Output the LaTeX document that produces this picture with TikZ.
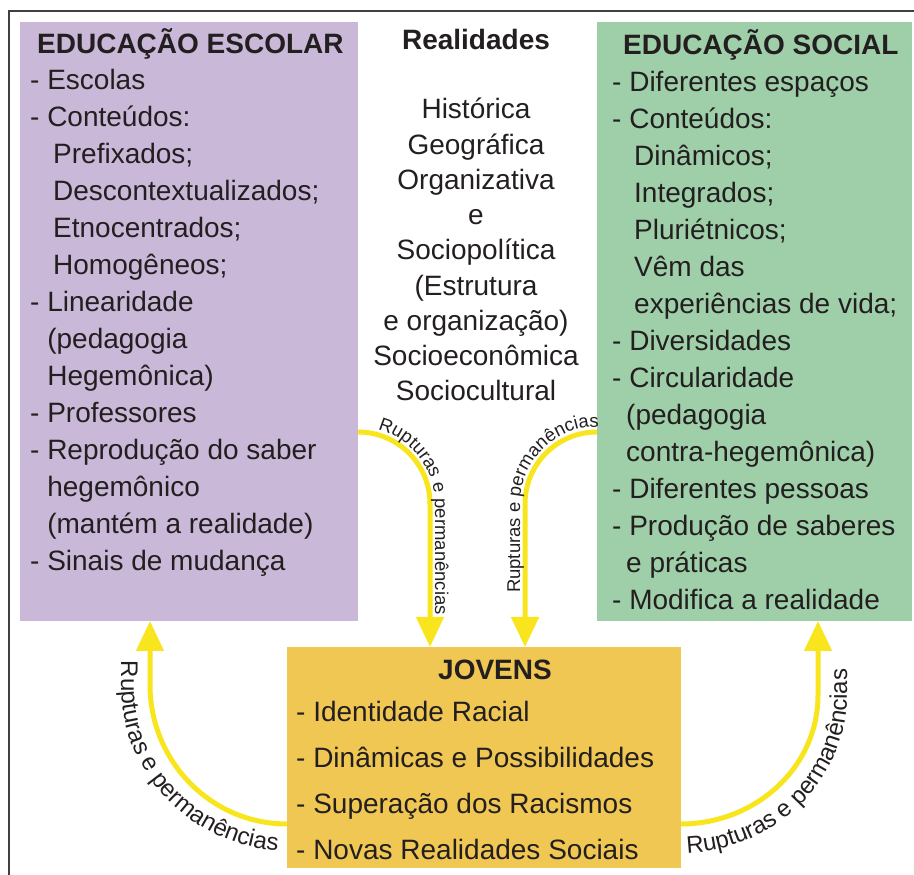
\documentclass[tikz,border=0pt]{standalone}
\usepackage{fontspec}
\setmainfont{Liberation Sans}
\usetikzlibrary{arrows.meta,calc,decorations.text}
\definecolor{lilas}{HTML}{C9B8D7}
\definecolor{verde}{HTML}{9FCFA9}
\definecolor{ouro}{HTML}{EFC752}
\definecolor{amarelo}{HTML}{F8E51E}
\definecolor{tinta}{HTML}{231F20}
\newcommand\textobox{\fontsize{28}{37}\selectfont}
\newcommand\rotulopeq{\color{tinta}\fontsize{18.5}{18.5}\selectfont}
\newcommand\rotulogr{\color{tinta}\fontsize{24}{24}\selectfont}
\newcommand\recuo{\hspace*{23pt}}
\newcommand\meio{\phantom{- }}

\begin{document}
\begin{tikzpicture}[x=1pt, y=1pt,
	painel/.style={inner sep=0pt, outer sep=0pt, anchor=south west},
	titulo/.style={font=\bfseries\fontsize{28}{28}\selectfont, text=tinta, inner sep=0pt, anchor=base west},
	lista/.style={text=tinta, inner sep=0pt, align=left, anchor=north west},
	seta/.style={line width=5pt, color=amarelo, >={Triangle[length=30pt,width=27pt]}},
	rotulo/.style 2 args={decorate, decoration={text along path,
		text={|#1|Rupturas e permanências}, text align={left indent=#2}}}]
			%%%%% START %%%%%
			\useasboundingbox (0, 0) rectangle (914, 875);
			\draw[line width=1.2pt, color=black!75] (9, 0) -- (9, 864) -- (914, 864);
			
			\node[painel, fill=lilas, minimum width=338pt, minimum height=599pt] (escolar) at (20, 254) {};
			\node[painel, fill=verde, minimum width=315pt, minimum height=599pt] (social) at (597, 254) {};
			\node[painel, fill=ouro, minimum width=394pt, minimum height=221pt] (jovens) at (287, 7) {};
			
			\node[titulo] (escolartitulo) at (37, 821) {EDUCAÇÃO ESCOLAR};
			\node[lista, font=\textobox] (escolarlista) at (30, 806) {- Escolas\\- Conteúdos:\\\recuo Prefixados;\\\recuo Descontextualizados;\\\recuo Etnocentrados;\\\recuo Homogêneos;\\- Linearidade\\\meio (pedagogia\\\meio Hegemônica)\\- Professores\\- Reprodução do saber\\\meio hegemônico\\\meio (mantém a realidade)\\- Sinais de mudança};
			
			\node[titulo, anchor=base] (realtitulo) at (476, 825) {Realidades};
			\node[text=tinta, inner sep=0pt, align=center, anchor=north, font=\fontsize{28}{35.25}\selectfont] (reallista) at (476, 777) {Histórica\\Geográfica\\Organizativa\\e\\Sociopolítica\\(Estrutura\\e organização)\\Socioeconômica\\Sociocultural};
			
			\node[titulo] (socialtitulo) at (623, 820) {EDUCAÇÃO SOCIAL};
			\node[lista, font=\textobox] (sociallista) at (612, 804) {- Diferentes espaços\\- Conteúdos:\\\hspace*{22pt}Dinâmicos;\\\hspace*{22pt}Integrados;\\\hspace*{22pt}Pluriétnicos;\\\hspace*{22pt}Vêm das\\\hspace*{22pt}experiências de vida;\\- Diversidades\\- Circularidade\\\hspace*{14pt}(pedagogia\\\hspace*{14pt}contra-hegemônica)\\- Diferentes pessoas\\- Produção de saberes\\\hspace*{14pt}e práticas\\- Modifica a realidade};
			
			\node[titulo] (jovenstitulo) at (438, 195) {JOVENS};
			\node[lista, font=\fontsize{28}{46}\selectfont] (jovenslista) at (296, 174) {- Identidade Racial\\- Dinâmicas e Possibilidades\\- Superação dos Racismos\\- Novas Realidades Sociais};
			
			% setas do centro
			\draw[seta, ->] ($(escolar.south east)+(0, 189)$) to[out=0, in=90] (430, 371) -- ($(jovens.north west)+(143, 0)$);
			\draw[seta, <-] ($(jovens.north west)+(238, 0)$) -- (525, 371) to[out=90, in=180] ($(social.south west)+(0, 189)$);
			\path[rotulo={\rotulopeq}{20pt}] (358, 448) to[out=0, in=90] (435, 371) -- (435, 230);
			\path[rotulo={\rotulopeq}{52pt}] (520, 230) -- (520, 371) to[out=90, in=180] (597, 448);
			
			% setas de baixo
			\draw[seta, <-] ($(escolar.south west)+(130, 0)$) -- (150, 190) to[out=-90, in=180] ($(jovens.south west)+(0, 44)$);
			\draw[seta, ->] ($(jovens.south east)+(0, 44)$) to[out=0, in=-90] (818, 180) -- ($(social.south west)+(221, 0)$);
			\path[rotulo={\rotulogr}{0pt}] (121, 214) -- (121, 190) to[out=-90, in=180] (290, 24);
			\path[rotulo={\rotulogr}{6pt}] (681, 22) to[out=0, in=-90] (847, 180) -- (847, 260);
			%%%%% END %%%%%
\end{tikzpicture}
\end{document}
